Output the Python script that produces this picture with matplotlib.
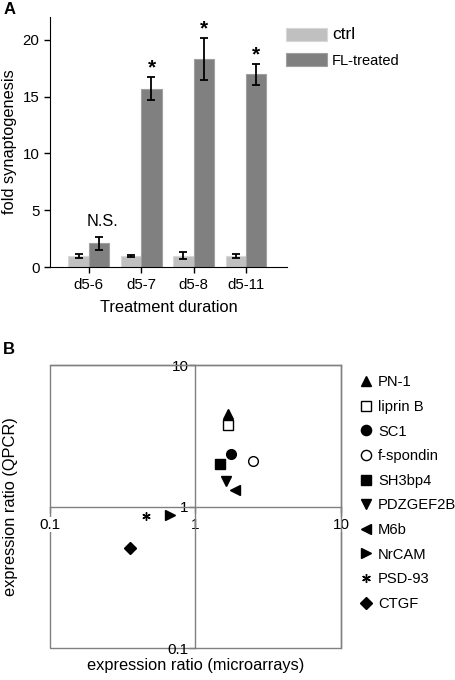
import matplotlib
matplotlib.use("Agg")
import matplotlib.pyplot as plt
import numpy as np
from matplotlib.patches import Rectangle

plt.rcParams['font.family'] = ['Liberation Sans', 'DejaVu Sans']

# panel A data
durations = ['d5-6', 'd5-7', 'd5-8', 'd5-11']
ctrl = [1.0, 1.0, 1.0, 1.0]
ctrl_err = [0.2, 0.1, 0.3, 0.2]
fl = [2.1, 15.7, 18.3, 16.95]
fl_err = [0.6, 1.0, 1.85, 0.95]
signif = ['N.S.', '*', '*', '*']

# panel B data
genes = ['PN-1', 'liprin B', 'SC1', 'f-spondin', 'SH3bp4', 'PDZGEF2B',
         'M6b', 'NrCAM', 'PSD-93', 'CTGF']
micro = [1.68, 1.68, 1.75, 2.49, 1.47, 1.61, 1.88, 0.666, 0.46, 0.356]
qpcr = [4.5, 3.8, 2.37, 2.1, 2.01, 1.51, 1.30, 0.87, 0.86, 0.51]
markers = ['^', 's', 'o', 'o', 's', 'v', '<', '>', (6, 2, 0), 'D']
filled = [True, False, True, False, True, True, True, True, True, True]

fig = plt.figure(figsize=(4.56, 6.8), dpi=100)

# ---- A ----
ax = fig.add_axes([0.1096, 0.607, 0.5194, 0.368])
x = np.arange(len(durations))
w = 0.39
ekw = dict(ecolor='black', elinewidth=1.3, capsize=3, capthick=1.3)
ax.bar(x - 0.195, ctrl, w, yerr=ctrl_err, color='#c0c0c0', edgecolor='#d8d8d8',
       linewidth=0.8, error_kw=ekw, label='ctrl')
ax.bar(x + 0.195, fl, w, yerr=fl_err, color='#808080', edgecolor='#a0a0a0',
       linewidth=0.8, error_kw=ekw, label='FL-treated')
for i, s in enumerate(signif):
    top = fl[i] + fl_err[i]
    if s == '*':
        ax.text(x[i] + 0.2, top + 0.3, s, ha='center', va='baseline', fontsize=15,
                fontweight='bold')
    else:
        ax.text(x[i] + 0.27, top + 0.9, s, ha='center', va='baseline', fontsize=11.8)
ax.set_xlim(-0.74, 3.78)
ax.set_ylim(0, 22)
ax.set_yticks([0, 5, 10, 15, 20])
ax.set_xticks(x)
ax.set_xticklabels(durations)
ax.tick_params(labelsize=10.8, length=4, width=1, direction='out')
ax.spines['top'].set_visible(False)
ax.spines['right'].set_visible(False)
ax.set_xlabel('Treatment duration', fontsize=11.8, labelpad=6)
ax.set_ylabel('fold synaptogenesis', fontsize=11.8, labelpad=4)
leg = ax.legend(loc='upper left', bbox_to_anchor=(0.627, 0.960),
                bbox_transform=fig.transFigure, frameon=False, fontsize=10.5,
                handlelength=2.8, handleheight=1.0, handletextpad=0.36,
                labelspacing=0.75, borderpad=0, borderaxespad=0)
leg.get_texts()[0].set_fontsize(12.5)
fig.text(0.007, 0.997, 'A', fontsize=12, fontweight='bold', va='top')

# ---- B ----
bx = fig.add_axes([0.1096, 0.047, 0.6382, 0.416])
bx.set_xscale('log')
bx.set_yscale('log')
bx.set_xlim(0.1, 10)
bx.set_ylim(0.1, 10)
for g, mx, qy, m, f in zip(genes, micro, qpcr, markers, filled):
    if isinstance(m, tuple):
        size = 6
    elif m == 'D':
        size = 6
    else:
        size = 7
    bx.plot(mx, qy, linestyle='none', marker=m, markersize=size,
            markerfacecolor='black' if f else 'white', markeredgecolor='black',
            markeredgewidth=1.0, label=g)
bx.spines['left'].set_position(('data', 1))
bx.spines['bottom'].set_position(('data', 1))
for sp in bx.spines.values():
    sp.set_color('#808080')
    sp.set_linewidth(1)
bx.add_patch(Rectangle((0, 0), 1, 1, transform=bx.transAxes, fill=False,
                       edgecolor='#808080', linewidth=1, clip_on=False))
bx.set_xticks([0.1, 1, 10])
bx.set_xticklabels(['0.1', '1', '10'])
bx.set_yticks([0.1, 1, 10])
bx.set_yticklabels(['0.1', '1', '10'])
bx.minorticks_off()
bx.tick_params(labelsize=11, length=4, width=1, color='#808080')
bx.tick_params(axis='x', pad=4)
bx.tick_params(axis='y', pad=1)
for t in bx.get_xticklabels():
    t.set_bbox(dict(facecolor='white', edgecolor='none', pad=0.5))
bx.set_xlabel('expression ratio (microarrays)', fontsize=11.8)
bx.xaxis.set_label_coords(0.5, -0.035)
bx.set_ylabel('expression ratio (QPCR)', fontsize=11.8)
bx.yaxis.set_label_coords(-0.11, 0.5)
bx.legend(loc='upper left', bbox_to_anchor=(0.787, 0.448),
          bbox_transform=fig.transFigure, frameon=False, fontsize=10.6,
          handlelength=1.0, handletextpad=0.3, labelspacing=0.72,
          borderpad=0, borderaxespad=0, markerscale=1.05)
fig.text(0.007, 0.497, 'B', fontsize=12, fontweight='bold', va='top')

fig.savefig('out.png', dpi=100)
